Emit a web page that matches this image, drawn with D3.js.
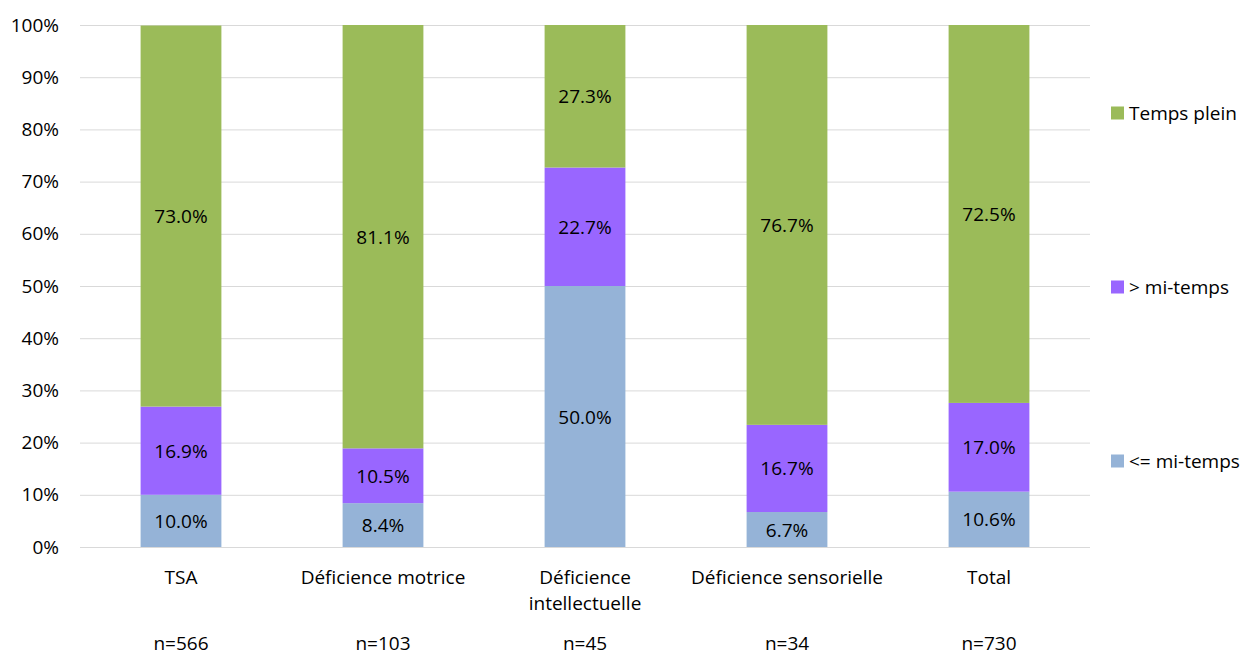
<!DOCTYPE html>
<html><head><meta charset="utf-8">
<script src="https://cdn.jsdelivr.net/npm/d3@7"></script>
<style>body{margin:0;background:#fff}svg{display:block}text{font-family:"Open Sans",sans-serif;fill:#000}</style>
</head><body><svg id="c" width="1243" height="655"></svg>
<script>
const categories = ["TSA","Déficience motrice","Déficience intellectuelle","Déficience sensorielle","Total"];
const categoryLines = [["TSA"],["Déficience motrice"],["Déficience","intellectuelle"],["Déficience sensorielle"],["Total"]];
const counts = ["n=566","n=103","n=45","n=34","n=730"];
const seriesNames = ["<= mi-temps","> mi-temps","Temps plein"];
const lowHalf = [10.0, 8.4, 50.0, 6.7, 10.6];
const overHalf = [16.9, 10.5, 22.7, 16.7, 17.0];
const fullTime = [73.0, 81.1, 27.3, 76.7, 72.5];
const colors = ["#95B3D7","#9966FF","#9BBB59"];
const yTicks = [0,10,20,30,40,50,60,70,80,90,100];

const FS = "19px";
const svg = d3.select("#c");
const pLeft = 80, pRight = 1090, pTop = 25, pBottom = 547;
const x = d3.scaleBand().domain(categories).range([pLeft,pRight]).paddingInner(0.6).paddingOuter(0.3);
const y = d3.scaleLinear().domain([0,100]).range([pBottom,pTop]);

// gridlines
svg.append("g").selectAll("line").data(yTicks).join("line")
  .attr("x1",pLeft).attr("x2",pRight).attr("y1",d=>y(d)+0.5).attr("y2",d=>y(d)+0.5)
  .attr("stroke","#d9d9d9").attr("stroke-width",1);
// y labels
const yAxis = d3.axisLeft(y).tickValues(yTicks).tickFormat(d=>d+"%").tickSize(0).tickPadding(0);
const ya = svg.append("g").attr("transform",`translate(${pLeft-21},0)`).call(yAxis);
ya.select(".domain").remove();
ya.selectAll("text").style("font-size",FS).attr("fill","#000").style("font-family","'Open Sans', sans-serif");

const rows = categories.map((c,i)=>({cat:c, "<= mi-temps":lowHalf[i], "> mi-temps":overHalf[i], "Temps plein":fullTime[i]}));
const stack = d3.stack().keys(seriesNames)(rows);
const g = svg.append("g");
stack.forEach((s,si)=>{
  const gg = g.append("g");
  gg.selectAll("rect").data(s).join("rect")
    .attr("x",d=>x(d.data.cat)).attr("width",x.bandwidth())
    .attr("y",d=>y(Math.min(d[1],100))).attr("height",d=>y(d[0])-y(Math.min(d[1],100)))
    .attr("fill",colors[si]);
  gg.selectAll("text").data(s).join("text")
    .attr("x",d=>x(d.data.cat)+x.bandwidth()/2)
    .attr("y",d=>(y(d[0])+y(Math.min(d[1],100)))/2)
    .attr("text-anchor","middle").attr("dominant-baseline","central")
    .style("font-size",FS)
    .text(d=>(d[1]-d[0]).toFixed(1)+"%");
});

// x labels
categories.forEach((c,i)=>{
  const cx = x(c)+x.bandwidth()/2;
  categoryLines[i].forEach((ln,j)=>{
    svg.append("text").attr("x",cx).attr("y",577+j*26).attr("dominant-baseline","central").attr("text-anchor","middle")
      .style("font-size",FS).text(ln);
  });
  svg.append("text").attr("x",cx).attr("y",643).attr("dominant-baseline","central").attr("text-anchor","middle")
    .style("font-size",FS).text(counts[i]);
});

// legend
const legendY = {"Temps plein":113,"> mi-temps":287,"<= mi-temps":461};
seriesNames.forEach((n,i)=>{
  const ly = legendY[n];
  svg.append("rect").attr("x",1111).attr("y",ly-6.5).attr("width",13).attr("height",13).attr("fill",colors[i]);
  svg.append("text").attr("x",1129).attr("y",ly).attr("dominant-baseline","central").style("font-size",FS).text(n);
});
</script></body></html>
